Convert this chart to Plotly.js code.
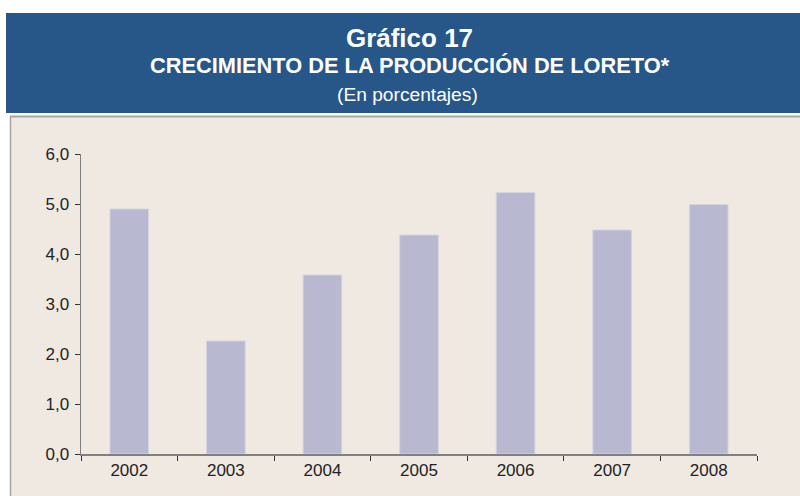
<!DOCTYPE html>
<html>
<head>
<meta charset="utf-8">
<script src="https://cdn.plot.ly/plotly-3.0.1.min.js"></script>
<style>html,body{margin:0;padding:0;background:#fff;}#chart{width:800px;height:496px;}</style>
</head>
<body>
<div id="chart"></div>
<script>
const years = ["2002", "2003", "2004", "2005", "2006", "2007", "2008"];
const growth = [4.9, 2.26, 3.58, 4.38, 5.23, 4.48, 4.99];
const yTicks = [0, 1, 2, 3, 4, 5, 6];

const L = 81, R = 757, T = 154, B = 454;
const W = 800, H = 496;
const pw = R - L, ph = B - T;
const px = x => (x - L) / pw;
const py = y => (B - y) / ph;

const trace = {
  type: "bar",
  x: years,
  y: growth,
  width: 0.4,
  marker: {color: "#b8b8d0", line: {color: "#d6d4e0", width: 1}},
  hoverinfo: "x+y"
};

const layout = {
  width: W, height: H,
  margin: {l: L, r: W - R, t: T, b: H - B, pad: 0},
  paper_bgcolor: "#f0e9e2",
  plot_bgcolor: "#f0e9e2",
  separators: ",.",
  showlegend: false,
  font: {family: "Liberation Sans, Arial, sans-serif", color: "#222222"},
  title: {
    text: "<b>Gráfico 17</b>",
    font: {size: 26, color: "#ffffff", family: "Liberation Sans, Arial, sans-serif"},
    x: px(409.5), xref: "paper", xanchor: "center",
    y: 1 - 38 / H, yref: "container", yanchor: "middle"
  },
  annotations: [
    {text: "<b>CRECIMIENTO DE LA PRODUCCIÓN DE LORETO*</b>", xref: "paper", yref: "paper",
     x: px(409.5), y: py(65.5), xanchor: "center", yanchor: "middle", showarrow: false,
     font: {size: 21.8, color: "#ffffff"}},
    {text: "(En porcentajes)", xref: "paper", yref: "paper",
     x: px(407.5), y: py(95), xanchor: "center", yanchor: "middle", showarrow: false,
     font: {size: 19.2, color: "#ffffff"}}
  ],
  shapes: [
    {type: "rect", xref: "paper", yref: "paper", x0: px(-5), x1: px(805), y0: py(116), y1: py(-5),
     fillcolor: "#ffffff", line: {width: 0}, layer: "below"},
    {type: "rect", xref: "paper", yref: "paper", x0: px(-5), x1: px(10), y0: py(505), y1: py(-5),
     fillcolor: "#ffffff", line: {width: 0}, layer: "below"},
    {type: "rect", xref: "paper", yref: "paper", x0: px(6), x1: px(805), y0: py(113), y1: py(13),
     fillcolor: "#275688", line: {width: 0}, layer: "below"},
    {type: "line", xref: "paper", yref: "paper", x0: px(10), x1: px(805), y0: py(116.5), y1: py(116.5),
     line: {color: "#a8a6a4", width: 2}, layer: "below"},
    {type: "line", xref: "paper", yref: "paper", x0: px(10.5), x1: px(10.5), y0: py(116), y1: py(505),
     line: {color: "#a8a6a4", width: 1.5}, layer: "below"}
  ],
  xaxis: {
    type: "category",
    range: [-0.5, 6.5],
    tickson: "boundaries",
    ticks: "outside", ticklen: 5, tickcolor: "#333333", tickwidth: 1,
    showline: true, linecolor: "#808080", linewidth: 1.5,
    showgrid: false, zeroline: false,
    tickfont: {size: 17, color: "#222222"},
    fixedrange: true
  },
  yaxis: {
    range: [0, 6],
    tickvals: yTicks,
    tickformat: ".1f",
    ticks: "outside", ticklen: 5, tickcolor: "#333333", tickwidth: 1,
    ticklabelstandoff: 2,
    showline: true, linecolor: "#808080", linewidth: 1.5,
    showgrid: false, zeroline: false,
    tickfont: {size: 17, color: "#222222"},
    fixedrange: true
  }
};

Plotly.newPlot("chart", [trace], layout, {displayModeBar: false, staticPlot: true});
</script>
</body>
</html>
